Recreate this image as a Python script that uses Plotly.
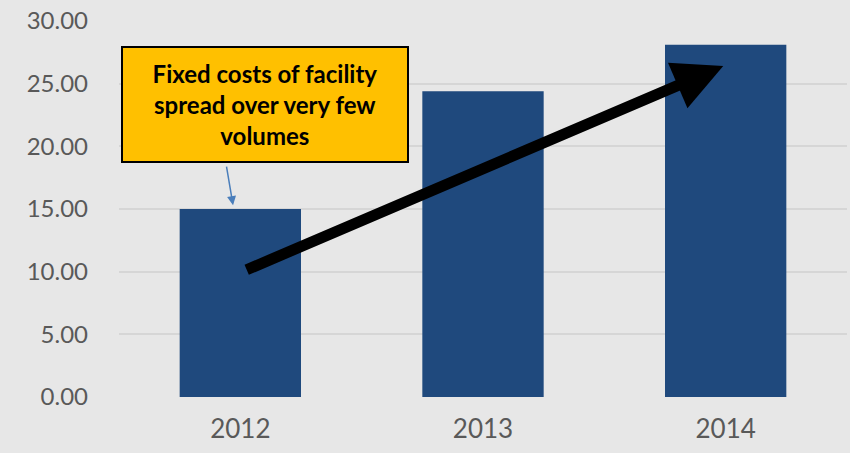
import plotly.graph_objects as go

years = ["2012", "2013", "2014"]
cost_per_unit = [15.0, 24.4, 28.1]
y_ticks = [0, 5, 10, 15, 20, 25, 30]

bg = "#e7e7e7"
bar_color = "#1f497d"
font_family = "Lato, 'Open Sans', sans-serif"

fig = go.Figure()
fig.add_bar(x=years, y=cost_per_unit, marker_color=bar_color,
            marker_line_width=0, width=0.5)

# big black trend arrow
fig.add_annotation(x=1.99, y=26.4, ax=0.02, ay=10.1,
                   xref="x", yref="y", axref="x", ayref="y",
                   text="", showarrow=True, arrowhead=2, arrowsize=0.9,
                   arrowwidth=11, arrowcolor="black")

# callout box
fig.add_annotation(x=0.1, y=23.3, xref="x", yref="y",
                   text="<b>Fixed costs of facility<br>spread over very few<br>volumes</b>",
                   showarrow=False, bgcolor="#ffc000", bordercolor="black",
                   borderwidth=2, borderpad=0, width=284, height=113,
                   font=dict(family=font_family, size=24, color="black"))

# small blue pointer from box to the 2012 bar
fig.add_annotation(x=-0.03, y=15.3, ax=-0.058, ay=18.5,
                   xref="x", yref="y", axref="x", ayref="y",
                   text="", showarrow=True, arrowhead=2, arrowsize=1.2,
                   arrowwidth=1.5, arrowcolor="#4a7ebb")

fig.update_layout(
    width=850, height=453,
    margin=dict(l=119, r=3, t=21, b=56),
    paper_bgcolor=bg, plot_bgcolor=bg,
    showlegend=False, bargap=0.5,
    font=dict(family=font_family, size=26, color="#595959"),
)
fig.update_xaxes(showgrid=False, showline=False, ticks="",
                 ticklabelstandoff=14, tickfont_size=26)
fig.update_yaxes(range=[0, 30], tickvals=y_ticks, tickformat=".2f",
                 gridcolor="#d6d6d6", gridwidth=1.5, zeroline=False,
                 ticks="", ticklabelstandoff=30, tickfont_size=24)

fig.write_html("out.html", config={"displayModeBar": False},
               post_script="document.body.style.margin='0';")
